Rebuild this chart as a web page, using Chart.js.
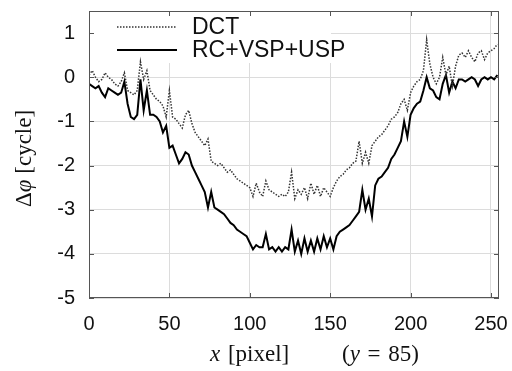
<!DOCTYPE html>
<html>
<head>
<meta charset="utf-8">
<script src="https://cdn.jsdelivr.net/npm/chart.js@4"></script>
<style>
  html, body { margin: 0; padding: 0; background: #fff; }
  #wrap { width: 512px; height: 371px; }
</style>
</head>
<body>
<div id="wrap"><canvas id="phaseChart" width="512" height="371"></canvas></div>
<script>
// x position along the row (pixel), every 2nd pixel
const labelsDCT = "DCT";
const labelsRC = "RC+VSP+USP";

const dctValues = [
    0.05, 0.15, 0.0, -0.1, -0.05, 0.1, 0.0, -0.05, -0.15, -0.2, -0.1, 0.1, -0.3, -0.35, -0.4, -0.3,
    0.35, -0.05, 0.15, -0.3, -0.4, -0.5, -0.55, -0.65, -0.9, -0.3, -0.9, -0.95, -1.05, -1.15, -0.85, -0.75,
    -1.05, -1.25, -1.35, -1.45, -1.55, -1.4, -1.9, -1.95, -2.0, -1.95, -2.05, -2.15, -2.1, -2.2, -2.3, -2.35,
    -2.4, -2.45, -2.5, -2.7, -2.4, -2.6, -2.7, -2.35, -2.55, -2.6, -2.65, -2.7, -2.65, -2.7, -2.6, -2.15,
    -2.75, -2.55, -2.65, -2.5, -2.75, -2.4, -2.65, -2.45, -2.7, -2.5, -2.6, -2.7, -2.5, -2.35, -2.25, -2.2,
    -2.1, -2.05, -1.95, -1.9, -1.45, -1.95, -1.7, -1.95, -1.55, -1.45, -1.35, -1.3, -1.2, -1.1, -0.95, -0.9,
    -0.8, -0.6, -0.5, -0.75, -0.35, -0.2, -0.1, -0.05, 0.15, 0.85, 0.3, 0.0, -0.15, 0.0, 0.45, 0.05,
    0.25, -0.2, 0.25, 0.5, 0.55, 0.45, 0.6, 0.45, 0.35, 0.55, 0.6, 0.4, 0.55, 0.6, 0.65, 0.75
];

const rcValues = [
    -0.15, -0.2, -0.25, -0.2, -0.35, -0.45, -0.25, -0.3, -0.35, -0.4, -0.35, -0.1, -0.6, -0.9, -0.95, -0.85,
    -0.05, -0.75, -0.3, -0.85, -0.85, -0.9, -1.0, -1.25, -1.1, -1.6, -1.55, -1.75, -1.95, -1.85, -1.7, -1.75,
    -2.0, -2.15, -2.3, -2.45, -2.6, -2.95, -2.6, -2.95, -3.0, -3.05, -3.1, -3.2, -3.3, -3.35, -3.45, -3.5,
    -3.55, -3.6, -3.75, -3.9, -3.8, -3.85, -3.85, -3.55, -3.9, -3.85, -3.95, -3.85, -3.95, -3.85, -3.9, -3.45,
    -3.95, -3.7, -4.0, -3.65, -3.95, -3.7, -3.95, -3.65, -3.9, -3.6, -3.85, -3.65, -3.9, -3.6, -3.5, -3.45,
    -3.4, -3.35, -3.25, -3.15, -3.05, -2.55, -3.0, -2.75, -3.15, -2.45, -2.3, -2.25, -2.15, -2.05, -1.85, -1.75,
    -1.6, -1.45, -1.0, -1.35, -0.85, -0.7, -0.6, -0.55, -0.3, 0.0, -0.25, -0.3, -0.45, -0.5, -0.15, 0.05,
    -0.35, -0.1, -0.25, -0.05, -0.05, -0.1, -0.05, 0.0, -0.05, -0.2, -0.05, 0.0, -0.05, 0.0, -0.05, 0.05
];

const xPixels = dctValues.map((v, i) => i * 2);

const xTicks = [0, 50, 100, 150, 200, 250];
const yTicks = [-5, -4, -3, -2, -1, 0, 1];

const sansFont = "'Liberation Sans', Arial, sans-serif";
const serifFont = "'Liberation Serif', 'Times New Roman', serif";

// draws a row of text pieces, some italic
function drawPieces(ctx, pieces, x, y) {
    pieces.forEach(p => {
        ctx.font = (p.italic ? "italic " : "") + "23px " + serifFont;
        ctx.fillText(p.text, x, y);
        x += ctx.measureText(p.text).width;
    });
}

const framePlugin = {
    id: "frame",
    beforeDatasetsDraw(chart) {
        let ctx = chart.ctx;
        let a = chart.chartArea;
        // white key box, hides the grid behind the legend
        ctx.save();
        ctx.fillStyle = "#fff";
        ctx.fillRect(a.left + 1, a.top + 1, 330 - a.left, 51);
        ctx.restore();
    },
    afterDraw(chart) {
        let ctx = chart.ctx;
        let a = chart.chartArea;
        let xs = chart.scales.x;
        let ys = chart.scales.y;

        ctx.save();
        ctx.strokeStyle = "#555";
        ctx.lineWidth = 1;
        ctx.strokeRect(a.left + 0.5, a.top + 0.5, a.right - a.left - 1, a.bottom - a.top - 1);

        // inward tick marks on all four sides
        ctx.beginPath();
        xTicks.forEach(t => {
            let px = Math.round(xs.getPixelForValue(t)) + 0.5;
            ctx.moveTo(px, a.bottom);
            ctx.lineTo(px, a.bottom - 5);
            ctx.moveTo(px, a.top);
            ctx.lineTo(px, a.top + 5);
        });
        yTicks.forEach(t => {
            let py = Math.round(ys.getPixelForValue(t)) + 0.5;
            ctx.moveTo(a.left, py);
            ctx.lineTo(a.left + 5, py);
            ctx.moveTo(a.right, py);
            ctx.lineTo(a.right - 5, py);
        });
        ctx.stroke();

        // key
        ctx.lineWidth = 1.5;
        ctx.strokeStyle = "#333";
        ctx.setLineDash([1.5, 1.5]);
        ctx.beginPath();
        ctx.moveTo(117, 27);
        ctx.lineTo(177, 27);
        ctx.stroke();
        ctx.setLineDash([]);
        ctx.strokeStyle = "#000";
        ctx.lineWidth = 2;
        ctx.beginPath();
        ctx.moveTo(117, 50);
        ctx.lineTo(177, 50);
        ctx.stroke();

        ctx.fillStyle = "#111";
        ctx.font = "23px " + sansFont;
        ctx.textBaseline = "middle";
        ctx.fillText(labelsDCT, 192, 28);
        ctx.fillText(labelsRC, 192, 51);

        // axis titles
        ctx.textBaseline = "alphabetic";
        drawPieces(ctx, [{ text: "x", italic: true }, { text: "\u2004[pixel]" }], 210, 361);
        drawPieces(ctx, [{ text: "(" }, { text: "y", italic: true }, { text: "\u2004=\u200485)" }], 342, 361);

        ctx.translate(31, 207);
        ctx.rotate(-Math.PI / 2);
        drawPieces(ctx, [{ text: "Δ" }, { text: "φ", italic: true }, { text: " [cycle]" }], 0, 0);
        ctx.restore();
    }
};

new Chart(document.getElementById("phaseChart"), {
    type: "line",
    data: {
        labels: xPixels,
        datasets: [
            {
                label: labelsDCT,
                data: xPixels.map((x, i) => ({ x: x, y: dctValues[i] })),
                borderColor: "#333",
                borderWidth: 1.5,
                borderDash: [1.5, 1.5],
                pointRadius: 0,
                tension: 0
            },
            {
                label: labelsRC,
                data: xPixels.map((x, i) => ({ x: x, y: rcValues[i] })),
                borderColor: "#000",
                borderWidth: 2,
                pointRadius: 0,
                tension: 0
            }
        ]
    },
    plugins: [framePlugin],
    options: {
        responsive: false,
        animation: false,
        layout: { padding: { top: 11, right: 13, left: 0, bottom: 0 } },
        plugins: {
            legend: { display: false },
            tooltip: { enabled: false }
        },
        scales: {
            x: {
                type: "linear",
                min: 0,
                max: 255,
                afterFit: s => {
                    s.height = 73;
                    s.paddingLeft = 0;
                    s.paddingRight = 0;
                },
                border: { display: false },
                grid: { color: "#dcdcdc", lineWidth: 1, drawTicks: false },
                ticks: {
                    stepSize: 50,
                    includeBounds: false,
                    padding: 14,
                    color: "#111",
                    font: { family: sansFont, size: 20 },
                    maxRotation: 0
                }
            },
            y: {
                min: -5,
                max: 1.5,
                afterFit: s => {
                    s.width = 89;
                    s.paddingTop = 0;
                    s.paddingBottom = 0;
                },
                border: { display: false },
                grid: { color: "#dcdcdc", lineWidth: 1, drawTicks: false },
                ticks: {
                    stepSize: 1,
                    includeBounds: false,
                    padding: 14,
                    color: "#111",
                    font: { family: sansFont, size: 20 }
                }
            }
        }
    }
});
</script>
</body>
</html>
